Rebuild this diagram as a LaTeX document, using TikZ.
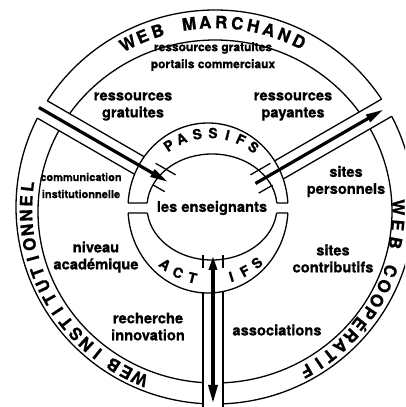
\documentclass[tikz,border=0pt]{standalone}
\usepackage{fontspec}
\setmainfont{TeX Gyre Heros}[BoldFeatures={FakeBold=0.8}]
\usetikzlibrary{calc,arrows.meta}
\begin{document}
\begin{tikzpicture}[x=1pt,y=1pt,
  ln/.style={line width=1.3pt},
  lbl/.style={font=\bfseries\fontsize{14.7}{17}\selectfont, align=center, inner sep=0pt},
  toplbl/.style={font=\bfseries\fontsize{12}{17}\selectfont, align=center, inner sep=0pt},
  smalllbl/.style={font=\bfseries\fontsize{11}{17}\selectfont, align=center, inner sep=0pt},
  bandletter/.style={font=\bfseries\fontsize{17}{17}\selectfont, inner sep=0pt},
  ringletter/.style={font=\bfseries\fontsize{14}{14}\selectfont, inner sep=0pt},
  bigarrow/.style={line width=3.2pt, -{Triangle[length=18pt,width=8pt]}}]
\useasboundingbox (0,0) rectangle (405,407);
\clip (0,0) rectangle (405,407);
\coordinate (C) at (213,199);
\coordinate (O) at (215,200);
\coordinate (Ib) at (215,195.5);
\coordinate (M) at (208,199);
\coordinate (I) at (212,200);
\coordinate (B) at (215,198);
\coordinate (R) at (210,200);

% outer band
\draw[ln] (O) ellipse [x radius=199, y radius=197];
\draw[ln] (Ib) ellipse [x radius=177, y radius=171.5];

% channels
\begin{scope}[even odd rule]
  \clip (-20,-20) rectangle (430,430) (M) ellipse [x radius=80, y radius=85];
  \fill[white] ($(C)+(150:40)+(60:10)$) -- ($(C)+(150:240)+(60:10)$) -- ($(C)+(150:240)+(240:10)$) -- ($(C)+(150:40)+(240:10)$) -- cycle;
  \fill[white] ($(C)+(30:40)+(120:10)$) -- ($(C)+(30:240)+(120:10)$) -- ($(C)+(30:240)+(300:10)$) -- ($(C)+(30:40)+(300:10)$) -- cycle;
  \fill[white] ($(C)+(270:40)+(180:10)$) -- ($(C)+(270:240)+(180:10)$) -- ($(C)+(270:240)+(0:10)$) -- ($(C)+(270:40)+(0:10)$) -- cycle;
  \begin{scope}
    \clip (O) ellipse [x radius=199, y radius=197];
    \draw[ln] ($(C)+(150:40)+(60:10)$) -- ($(C)+(150:240)+(60:10)$);
    \draw[ln] ($(C)+(150:40)+(240:10)$) -- ($(C)+(150:240)+(240:10)$);
    \draw[ln] ($(C)+(30:40)+(120:10)$) -- ($(C)+(30:240)+(120:10)$);
    \draw[ln] ($(C)+(30:40)+(300:10)$) -- ($(C)+(30:240)+(300:10)$);
  \end{scope}
  \draw[ln] ($(C)+(270:40)+(180:10)$) -- ($(C)+(270:240)+(180:10)$);
  \draw[ln] ($(C)+(270:40)+(0:10)$) -- ($(C)+(270:240)+(0:10)$);
\end{scope}

% middle ring
\draw[ln] ($(M)+(3.37:80 and 85)$) arc[start angle=3.37, end angle=176.63, x radius=80, y radius=85];
\draw[ln] ($(M)+(183.37:80 and 85)$) arc[start angle=183.37, end angle=356.63, x radius=80, y radius=85];
\draw[ln] ($(I)+(4.33:65 and 53)$) arc[start angle=4.33, end angle=175.67, x radius=65, y radius=53];
\draw[ln] ($(I)+(186.5:65 and 53)$) arc[start angle=186.5, end angle=353.5, x radius=65, y radius=53];
\draw[ln] ($(M)+(176.63:80 and 85)$) -- ($(I)+(175.67:65 and 53)$);
\draw[ln] ($(M)+(183.37:80 and 85)$) -- ($(I)+(186.5:65 and 53)$);
\draw[ln] ($(I)+(4.33:65 and 53)$) -- ($(M)+(3.37:80 and 85)$);
\draw[ln] ($(I)+(353.5:65 and 53)$) -- ($(M)+(356.63:80 and 85)$);

% ticks
\draw[ln] ($(C)+(150:49)+(60:10)$) -- ($(C)+(150:72)+(60:10)$);
\draw[ln] ($(C)+(150:50)+(240:10)$) -- ($(C)+(150:63)+(240:10)$);
\draw[ln] ($(C)+(30:49)+(120:10)$) -- ($(C)+(30:72)+(120:10)$);
\draw[ln] ($(C)+(30:47)+(300:10)$) -- ($(C)+(30:63)+(300:10)$);
\draw[ln] ($(C)+(270:47)+(180:10)$) -- ($(C)+(270:60)+(180:10)$);
\draw[ln] ($(C)+(270:47)+(0:10)$) -- ($(C)+(270:60)+(0:10)$);

% arrows
\coordinate (ulA) at ($(C)+(150:201)$);
\coordinate (ulB) at ($(C)+(150:52)$);
\coordinate (urA) at ($(C)+(30:49)$);
\coordinate (urB) at ($(C)+(30:197)$);
\coordinate (vA) at ($(C)+(270:48)$);
\coordinate (vB) at ($(C)+(270:195)$);
\draw[bigarrow] (ulA) -- (ulB);
\draw[bigarrow] (urA) -- (urB);
\draw[line width=3.2pt, {Triangle[length=14pt,width=8pt]}-{Triangle[length=18pt,width=9pt]}] (vA) -- (vB);

% band letters
\foreach \a/\l [count=\i] in {117.5/W,112.6/E,107.7/B,97.9/M,93/A,88.1/R,83.2/C,78.3/H,73.4/A,68.5/N,63.6/D}
  \node[bandletter, rotate=\a-90] (wm\i) at ($(B)+(\a:189 and 187)$) {\l};
\foreach \a/\l [count=\i] in {246.5/W,242/E,237.5/B,231.5/I,227/N,222.5/S,218/T,213.5/I,209/T,204.5/U,200/T,195.5/I,191/O,186.5/N,182/N,177.5/E,173/L}
  \node[bandletter, rotate=\a-90] (wi\i) at ($(B)+(\a:189 and 185)$) {\l};
\foreach \a/\l [count=\i] in {0.5/W,-5/E,-10.5/B}
  \node[bandletter, rotate=\a-90] (wcw\i) at ($(B)+(\a:183.5 and 186)$) {\l};
\foreach \a/\l [count=\i] in {-19.5/C,-24.5/O,-29.5/O,-34/P,-38.5/É,-43/R,-47.5/A,-52/T,-56/I,-60.5/F}
  \node[bandletter, rotate=\a-90] (wc\i) at ($(B)+(\a:186 and 186)$) {\l};
% ring letters
\foreach \a/\l [count=\i] in {123.7/P,112.7/A,100/S,87.7/S,76.3/I,65.4/F,54/S}
  \node[ringletter, rotate=\a-90] (pa\i) at ($(R)+(\a:74)$) {\l};
\foreach \a/\l [count=\i] in {232/A,244/C,256/T,287/I,298.5/F,310/S}
  \node[ringletter, rotate=\a+90] (ac\i) at ($(R)+(\a:73)$) {\l};

% labels
\node[toplbl] (t1) at (213,350.5) {ressources gratuites\\portails commerciaux};
\node[lbl] (t2) at (133,300.5) {ressources\\gratuites};
\node[lbl] (t3) at (293,300.5) {ressources\\payantes};
\node[smalllbl] (t4) at (81,221.5) {communication\\institutionnelle};
\node[lbl] (t5) at (346,225.5) {sites\\personnels};
\node[lbl] (t6) at (212,199) {les enseignants};
\node[lbl] (t7) at (96,150) {niveau\\académique};
\node[lbl] (t8) at (333,148.5) {sites\\contributifs};
\node[lbl] (t9) at (148,80.5) {recherche\\innovation};
\node[lbl] (t10) at (277,77) {associations};
\end{tikzpicture}
\end{document}
